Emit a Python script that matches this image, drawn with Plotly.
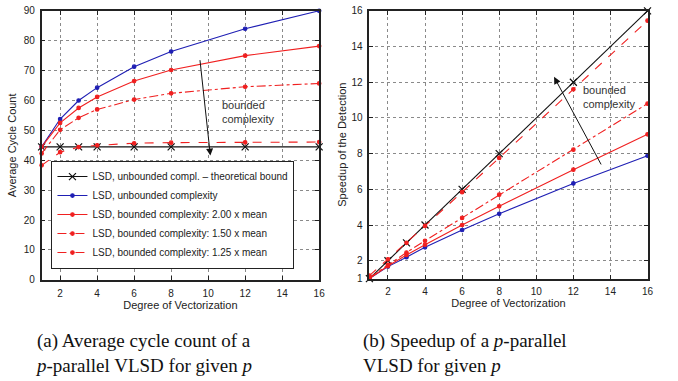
import plotly.graph_objects as go

# ---------------- data ----------------
p = [1, 2, 3, 4, 6, 8, 12, 16]

cyc_bound = [44.5, 44.5, 44.5, 44.5, 44.5, 44.5, 44.5, 44.5]
cyc_unbounded = [44.5, 53.8, 60.0, 64.3, 71.3, 76.4, 84.0, 90.0]
cyc_200 = [44.5, 52.5, 57.5, 61.2, 66.5, 70.2, 75.0, 78.2]
cyc_150 = [42.3, 50.2, 54.2, 57.0, 60.3, 62.4, 64.6, 65.7]
cyc_125 = [38.3, 42.7, 44.4, 45.0, 45.7, 45.9, 46.0, 46.1]

spd_bound = [1, 2, 3, 4, 6, 8, 12, 16]
spd_unbounded = [1.0, 1.67, 2.2, 2.75, 3.72, 4.63, 6.33, 7.88]
spd_200 = [1.0, 1.7, 2.32, 2.9, 4.0, 5.05, 7.1, 9.08]
spd_150 = [1.05, 1.77, 2.46, 3.12, 4.4, 5.7, 8.22, 10.8]
spd_125 = [1.16, 2.08, 3.0, 3.95, 5.84, 7.76, 11.6, 15.45]

names = [
    "LSD, unbounded compl. \u2013 theoretical bound",
    "LSD, unbounded complexity",
    "LSD, bounded complexity: 2.00 x mean",
    "LSD, bounded complexity: 1.50 x mean",
    "LSD, bounded complexity: 1.25 x mean",
]

x_ticks = [2, 4, 6, 8, 10, 12, 14, 16]
y1_ticks = [0, 10, 20, 30, 40, 50, 60, 70, 80, 90]
y2_ticks = [1, 2, 4, 6, 8, 10, 12, 14, 16]

caption_a = "(a) Average cycle count of a<br><i>p</i>-parallel VLSD for given <i>p</i>"
caption_b = "(b) Speedup of a <i>p</i>-parallel<br>VLSD for given <i>p</i>"

# ---------------- styles ----------------
BLUE = "#1f1fb4"
RED = "#f02020"
BLACK = "#111111"
styles = [
    dict(color=BLACK, dash="solid", symbol="x-thin", size=7),
    dict(color=BLUE, dash="solid", symbol="circle", size=3.5),
    dict(color=RED, dash="solid", symbol="circle", size=3.5),
    dict(color=RED, dash="dashdot", symbol="circle", size=3.5),
    dict(color=RED, dash="dash", symbol="circle", size=3.5),
]

fig = go.Figure()

left_series = [cyc_bound, cyc_unbounded, cyc_200, cyc_150, cyc_125]
right_series = [spd_bound, spd_unbounded, spd_200, spd_150, spd_125]

for name, ys, st in zip(names, left_series, styles):
    fig.add_trace(go.Scatter(
        x=p, y=ys, name=name, mode="lines+markers", cliponaxis=False,
        line=dict(color=st["color"], dash=st["dash"], width=1.1),
        marker=dict(symbol=st["symbol"], size=st["size"], color=st["color"],
                    line=dict(color=st["color"], width=1.2)),
        xaxis="x", yaxis="y", showlegend=True,
    ))

for name, ys, st in zip(names, right_series, styles):
    fig.add_trace(go.Scatter(
        x=p, y=ys, name=name, mode="lines+markers", cliponaxis=False,
        line=dict(color=st["color"], dash=st["dash"], width=1.1),
        marker=dict(symbol=st["symbol"], size=st["size"], color=st["color"],
                    line=dict(color=st["color"], width=1.2)),
        xaxis="x2", yaxis="y2", showlegend=False,
    ))

W, H = 678, 381
def px(xp):
    return xp / W
def py(yp):
    return 1 - yp / H

axis_common = dict(
    showline=True, mirror="ticks", linecolor="#222", linewidth=1.5,
    ticks="inside", ticklen=4, tickwidth=1, tickcolor="#222",
    showgrid=True, gridcolor="#8a8a8a", griddash="dot", gridwidth=1,
    zeroline=False, tickfont=dict(family="Liberation Sans, Arial", size=10, color="#222"),
)
title_font = dict(family="Liberation Sans, Arial", size=11, color="#222")

fig.update_layout(
    width=W, height=H,
    margin=dict(l=0, r=0, t=0, b=0),
    paper_bgcolor="white", plot_bgcolor="white",
    font=dict(family="Liberation Sans, Arial", size=10, color="#222"),
    xaxis=dict(domain=[px(42), px(322)], range=[1, 16], tickvals=x_ticks,
               title=dict(text="Degree of Vectorization", font=title_font, standoff=2),
               ticklabelstandoff=3, anchor="y", **axis_common),
    yaxis=dict(domain=[py(283), py(6)], range=[0, 90], tickvals=y1_ticks,
               title=dict(text="Average Cycle Count", font=title_font, standoff=5),
               ticklabelstandoff=3, anchor="x", **axis_common),
    xaxis2=dict(domain=[px(372.7), px(653.3)], range=[1, 16], tickvals=x_ticks,
                title=dict(text="Degree of Vectorization", font=title_font, standoff=2),
                ticklabelstandoff=3, anchor="y2", **axis_common),
    yaxis2=dict(domain=[py(281.7), py(6)], range=[1, 16], tickvals=y2_ticks,
                title=dict(text="Speedup of the Detection", font=title_font, standoff=3),
                ticklabelstandoff=3, anchor="x2", **axis_common),
    legend=dict(x=px(51.7), y=py(271.7), xanchor="left", yanchor="bottom",
                bgcolor="white", bordercolor="#222", borderwidth=1.2,
                font=dict(family="Liberation Sans, Arial", size=10, color="#222"),
                itemwidth=30, tracegroupgap=0),
)

# arrows and labels
fig.add_annotation(x=10.12, y=41.6, ax=9.55, ay=74.0, xref="x", yref="y",
                   axref="x", ayref="y", text="", showarrow=True,
                   arrowhead=2, arrowsize=1.4, arrowwidth=1, arrowcolor=BLACK)
fig.add_annotation(x=10.63, y=56.2, xref="x", yref="y", text="bounded<br>complexity",
                   showarrow=False, xanchor="left", yanchor="middle", align="left",
                   font=dict(family="Liberation Sans, Arial", size=11, color="#333"))
fig.add_annotation(x=10.96, y=12.3, ax=13.54, ay=7.31, xref="x2", yref="y2",
                   axref="x2", ayref="y2", text="", showarrow=True,
                   arrowhead=2, arrowsize=1.4, arrowwidth=1, arrowcolor=BLACK)
fig.add_annotation(x=12.4, y=11.2, xref="x2", yref="y2", text="bounded<br>complexity",
                   showarrow=False, xanchor="left", yanchor="middle", align="left",
                   font=dict(family="Liberation Sans, Arial", size=11, color="#333"))

# captions
cap_font = dict(family="Liberation Serif, Times New Roman", size=19, color="#111")
fig.add_annotation(x=px(33), y=py(358.5), xref="paper", yref="paper",
                   text=caption_a, showarrow=False, xanchor="left", yanchor="middle",
                   align="left", font=cap_font)
fig.add_annotation(x=px(364), y=py(358.5), xref="paper", yref="paper",
                   text=caption_b, showarrow=False, xanchor="left", yanchor="middle",
                   align="left", font=cap_font)

fig.write_html("out.html", config={"displayModeBar": False},
               post_script="document.body.style.margin='0';document.body.style.overflow='hidden';")
